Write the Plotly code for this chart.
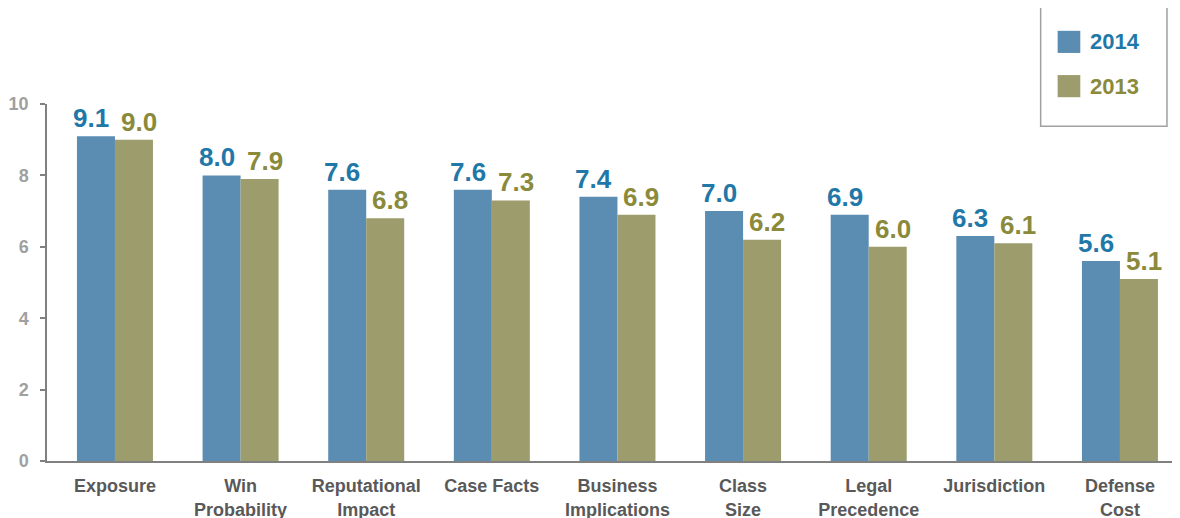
import plotly.graph_objects as go

# data
categories = ["Exposure", "Win<br>Probability", "Reputational<br>Impact", "Case Facts",
              "Business<br>Implications", "Class<br>Size", "Legal<br>Precedence",
              "Jurisdiction", "Defense<br>Cost"]
values_2014 = [9.1, 8.0, 7.6, 7.6, 7.4, 7.0, 6.9, 6.3, 5.6]
values_2013 = [9.0, 7.9, 6.8, 7.3, 6.9, 6.2, 6.0, 6.1, 5.1]
series_names = ["2014", "2013"]
y_ticks = [0, 2, 4, 6, 8, 10]

bar_colors = ["#5B8DB2", "#9C9C6C"]
label_colors = ["#1F78A8", "#8A8A3A"]
FONT = "Liberation Sans, Arial, sans-serif"

fig = go.Figure()
for name, vals, bc in zip(series_names, [values_2014, values_2013], bar_colors):
    fig.add_trace(go.Bar(
        x=categories, y=vals, name=name,
        marker=dict(color=bc, line=dict(width=0)),
        showlegend=False,
    ))

# value labels sit above each bar, nudged a little outwards like the original
label_shift = [-24, 24]
for vals, lc, xs in zip([values_2014, values_2013], label_colors, label_shift):
    for cat, v in zip(categories, vals):
        fig.add_annotation(x=cat, y=v, text=f"<b>{v:.1f}</b>", showarrow=False,
                           xanchor="center", yanchor="bottom", xshift=xs, yshift=1,
                           font=dict(family=FONT, size=26, color=lc))

# the page body adds an 8px offset, so margins are trimmed to compensate
fig.update_layout(
    width=1180, height=518,
    margin=dict(l=39, r=8, t=96, b=65),
    paper_bgcolor="white", plot_bgcolor="white",
    barmode="group", bargap=0.395, bargroupgap=0,
    font=dict(family=FONT),
)
fig.update_xaxes(
    range=[-0.541, 8.478], automargin=False,
    showline=True, linecolor="#808080", linewidth=1.5,
    ticks="", showgrid=False,
    tickfont=dict(family=FONT, size=18, color="#595959", weight="bold"),
    ticklabelstandoff=8,
)
fig.update_yaxes(
    range=[0, 10], tickvals=y_ticks, automargin=False,
    showline=True, linecolor="#808080", linewidth=1.5,
    ticks="outside", ticklen=5, tickcolor="#808080", tickwidth=1.5,
    showgrid=False, zeroline=False,
    tickfont=dict(family=FONT, size=18, color="#A0A0A0", weight="bold"),
    ticklabelstandoff=8,
)
# x axis line extends a little to the left of the y axis
fig.add_shape(type="line", xref="paper", yref="paper", x0=-0.006, x1=0, y0=0, y1=0,
              line=dict(color="#808080", width=1.5))

# legend box drawn by hand (large swatches, coloured text)
fig.add_shape(type="rect", xref="paper", yref="paper", x0=0.877, x1=0.9885, y0=0.938, y1=1.275,
              line=dict(color="#A0A0A0", width=1.5), fillcolor="white")
for i, (name, bc, lc) in enumerate(zip(series_names, bar_colors, label_colors)):
    yc = 1.174 - i * 0.124
    fig.add_shape(type="rect", xref="paper", yref="paper",
                  x0=0.892, x1=0.912, y0=yc - 0.031, y1=yc + 0.031,
                  line=dict(width=0), fillcolor=bc)
    fig.add_annotation(xref="paper", yref="paper", x=0.919, y=yc, text=f"<b>{name}</b>",
                       showarrow=False, xanchor="left", yanchor="middle",
                       font=dict(family=FONT, size=22, color=lc))

fig.write_html("out.html")
